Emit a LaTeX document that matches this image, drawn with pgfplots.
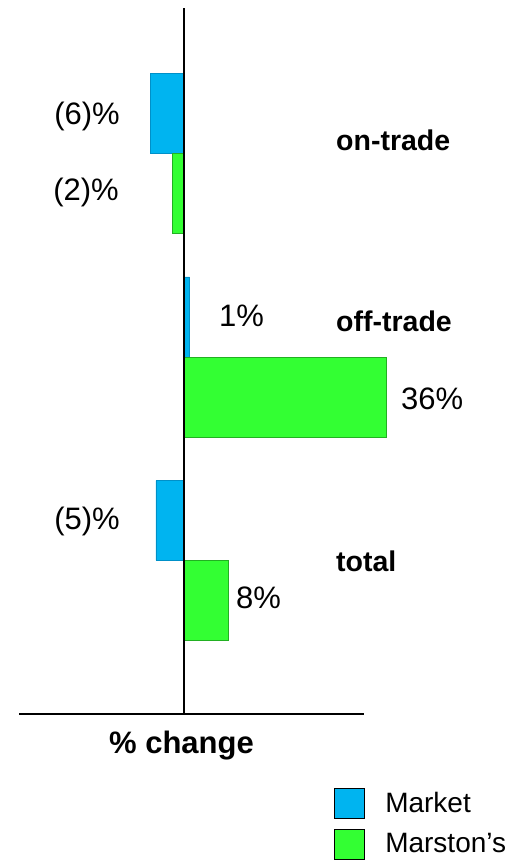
\documentclass[border=0pt]{standalone}
\usepackage{fontspec}
\setmainfont{Liberation Sans}
\usepackage{pgfplots}
\pgfplotsset{compat=1.18}
\definecolor{mkt}{HTML}{00B4F0}
\definecolor{mktd}{HTML}{0090C8}
\definecolor{mst}{HTML}{33FF33}
\definecolor{mstd}{HTML}{22B022}
\begin{document}
\begin{tikzpicture}
\begin{axis}[
  x=5.61pt, y=203.5pt,
  xmin=-29.4, xmax=32.1, ymin=0.246, ymax=3.717,
  axis x line*=bottom, axis y line*=middle,
  xtick=\empty, ytick=\empty,
  axis line style={line width=1.4pt, black},
  clip=false, axis on top,
  legend style={at={(axis description cs:0.913,-0.105)}, anchor=north west,
    draw=none, fill=none, inner sep=0pt, row sep=10pt, column sep=18pt,
    font=\fontsize{28}{32}\selectfont},
  legend cell align=left,
  legend image code/.code={\draw[#1,draw=black,line width=1pt] (0pt,-16pt) rectangle (30pt,14pt);},
]
\addplot[xbar, bar shift=0.1966, bar width=0.393, fill=mkt, draw=mktd, line width=0.8pt]
  coordinates {(-6,3) (1,2) (-5,1)};
\addplot[xbar, bar shift=-0.1966, bar width=0.393, fill=mst, draw=mstd, line width=0.8pt]
  coordinates {(-2,3) (36,2) (8,1)};
\legend{Market, Marston’s}
\coordinate (O) at (axis cs:0,3);
\end{axis}
\tikzset{lab/.style={inner sep=0pt, font=\fontsize{31}{36}\selectfont},
         cat/.style={inner sep=0pt, anchor=base west, font=\fontsize{28.5}{32}\selectfont\bfseries}}
\node[lab, anchor=base east] at ([shift={(-64pt,28.5pt)}]O) {(6)\%};
\node[lab, anchor=base east] at ([shift={(-65pt,-47.5pt)}]O) {(2)\%};
\node[lab, anchor=base west] at ([shift={(35pt,-173.5pt)}]O) {1\%};
\node[lab, anchor=base west] at ([shift={(217pt,-256.5pt)}]O) {36\%};
\node[lab, anchor=base east] at ([shift={(-64pt,-376.5pt)}]O) {(5)\%};
\node[lab, anchor=base west] at ([shift={(52pt,-455.5pt)}]O) {8\%};
\node[cat] at ([shift={(152pt,2.5pt)}]O) {on-trade};
\node[cat] at ([shift={(152pt,-178.5pt)}]O) {off-trade};
\node[cat] at ([shift={(152pt,-418.5pt)}]O) {total};
\node[inner sep=0pt, anchor=base, font=\fontsize{31}{36}\selectfont\bfseries] at ([shift={(-2.5pt,-599.5pt)}]O) {\% change};
\pgfresetboundingbox
\useasboundingbox ([shift={(-184pt,153.5pt)}]O) rectangle ([shift={(340pt,-707.5pt)}]O);
\end{tikzpicture}
\end{document}
